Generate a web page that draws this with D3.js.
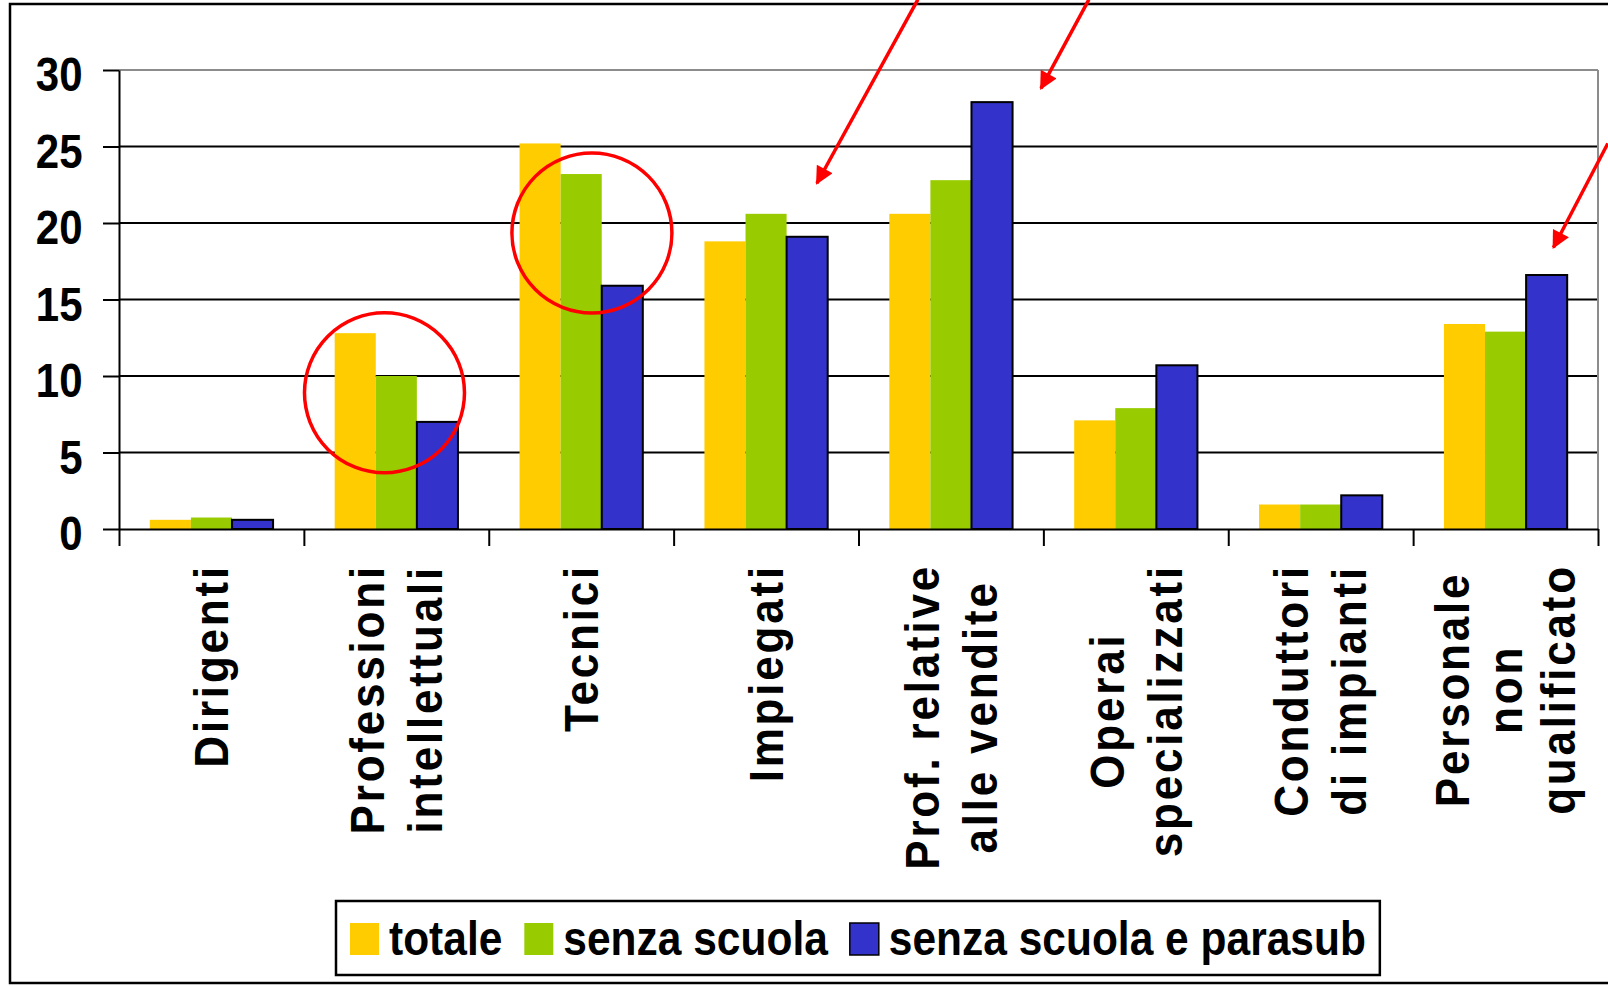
<!DOCTYPE html>
<html>
<head>
<meta charset="utf-8">
<script src="https://cdn.jsdelivr.net/npm/d3@7"></script>
<style>
  body { margin: 0; background: #fff; }
  svg { display: block; font-family: "Liberation Sans", Arial, sans-serif; font-weight: bold; }
</style>
</head>
<body>
<div id="chart"></div>
<script>
const categories = [
  'Dirigenti',
  'Professioni\nintellettuali',
  'Tecnici',
  'Impiegati',
  'Prof. relative\nalle vendite',
  'Operai\nspecializzati',
  'Conduttori\ndi impianti',
  'Personale\nnon\nqualificato'
];
const seriesNames = ['totale', 'senza scuola', 'senza scuola e parasub'];
const totale = [0.6, 12.8, 25.2, 18.8, 20.6, 7.1, 1.6, 13.4];
const senzaScuola = [0.75, 10.0, 23.2, 20.6, 22.8, 7.9, 1.6, 12.9];
const senzaScuolaParasub = [0.6, 7.0, 15.9, 19.1, 27.9, 10.7, 2.2, 16.6];
const yTicks = [0, 5, 10, 15, 20, 25, 30];

// red annotations, in data space (x = position in category units, v = value)
const circles = [{x: 1.436, v: 8.9}, {x: 2.558, v: 19.35}];
const arrows = [
  {x1: 4.321, v1: 34.6, x2: 3.775, v2: 22.6},
  {x1: 5.246, v1: 34.6, x2: 4.987, v2: 28.8},
  {x1: 8.053, v1: 25.2, x2: 7.759, v2: 18.4}
];

const colors = ['#FFCC00', '#99CC00', '#3333CC'];
const width = 1608;
const height = 986;
const plot = {left: 119, right: 1598, top: 70, bottom: 529};

const svg = d3.select('#chart')
    .append('svg')
    .attr('width', width)
    .attr('height', height);

// outer frame
svg.append('rect')
    .attr('x', 10).attr('y', 4)
    .attr('width', 1650).attr('height', 979)
    .attr('fill', 'none')
    .attr('stroke', '#000')
    .attr('stroke-width', 2.5);

const x = d3.scaleBand()
    .domain(d3.range(categories.length))
    .range([plot.left, plot.right]);
const xSeries = d3.scaleBand()
    .domain(d3.range(seriesNames.length))
    .range([0, x.bandwidth()])
    .paddingOuter(0.75);
const xPos = d3.scaleLinear()
    .domain([0, categories.length])
    .range([plot.left, plot.right]);
const y = d3.scaleLinear()
    .domain([0, 30])
    .range([plot.bottom, plot.top]);

// gridlines
svg.append('g')
    .selectAll('line')
    .data(yTicks.filter(d => d > 0))
    .join('line')
    .attr('x1', plot.left).attr('x2', plot.right)
    .attr('y1', d => y(d)).attr('y2', d => y(d))
    .attr('stroke', d => d === 30 ? '#8c8c8c' : '#000')
    .attr('stroke-width', 2);

svg.append('line')
    .attr('x1', plot.right).attr('x2', plot.right)
    .attr('y1', y(30)).attr('y2', y(0))
    .attr('stroke', '#8c8c8c')
    .attr('stroke-width', 2);

// bars
const values = [totale, senzaScuola, senzaScuolaParasub];
const barData = categories.flatMap((c, i) => values.map((v, s) => ({i, s, v: v[i]})));

svg.append('g')
    .selectAll('rect')
    .data(barData)
    .join('rect')
    .attr('x', d => x(d.i) + xSeries(d.s))
    .attr('width', xSeries.bandwidth())
    .attr('y', d => y(d.v))
    .attr('height', d => y(0) - y(d.v))
    .attr('fill', d => colors[d.s])
    .attr('stroke', d => d.s === 2 ? '#000' : 'none')
    .attr('stroke-width', 2);

// y axis
const yAxis = d3.axisLeft(y)
    .tickValues(yTicks)
    .tickSize(16)
    .tickSizeOuter(0);

const gy = svg.append('g')
    .attr('transform', `translate(${plot.left},0)`)
    .call(yAxis);
gy.selectAll('path, line').attr('stroke', '#000').attr('stroke-width', 2);
gy.selectAll('text')
    .attr('x', null).attr('dy', null)
    .attr('fill', '#000')
    .attr('font-size', 42)
    .attr('transform', 'translate(-36.5,20.5) scale(1,1.13)');

// x axis (ticks between categories)
const xAxis = d3.axisBottom(xPos)
    .tickValues(d3.range(categories.length + 1))
    .tickSize(17)
    .tickSizeOuter(0)
    .tickFormat('');

const gx = svg.append('g')
    .attr('transform', `translate(0,${plot.bottom})`)
    .call(xAxis);
gx.selectAll('path, line').attr('stroke', '#000').attr('stroke-width', 2);

// category labels, rotated (glyphs a bit wider across than along the text)
const catFont = 44, catAcross = 1.1, catSpacing = 2.8, labelTop = 564;
categories.forEach((c, i) => {
  const lines = c.split('\n');
  const lineH = lines.length > 2 ? 53 : 58;
  const g = svg.append('g');
  const texts = g.selectAll('text')
      .data(lines)
      .join('text')
      .attr('font-size', catFont)
      .attr('letter-spacing', catSpacing)
      .attr('text-anchor', 'middle')
      .attr('dominant-baseline', 'central')
      .text(d => d);
  const maxLen = d3.max(texts.nodes(), n => n.getComputedTextLength());
  const cx = x(i) + x.bandwidth() / 2;
  texts.attr('transform', (d, j) =>
      `translate(${cx + (j - (lines.length - 1) / 2) * lineH},${labelTop + maxLen / 2}) scale(${catAcross},1) rotate(-90)`);
});

// legend
const legend = svg.append('g');
const legendBox = legend.append('rect')
    .attr('x', 336).attr('y', 901)
    .attr('height', 74)
    .attr('fill', '#fff')
    .attr('stroke', '#000')
    .attr('stroke-width', 2.5);

let lx = 350;
seriesNames.forEach((name, s) => {
  legend.append('rect')
      .attr('x', lx).attr('y', 923)
      .attr('width', 29).attr('height', 32)
      .attr('fill', colors[s])
      .attr('stroke', s === 2 ? '#000' : 'none')
      .attr('stroke-width', 1.5);
  const t = legend.append('text')
      .attr('transform', `translate(${lx + 39},955) scale(1,1.12)`)
      .attr('font-size', 42.5)
      .text(name);
  lx += 39 + t.node().getComputedTextLength() + 22;
});
legendBox.attr('width', lx - 22 + 14 - 336);

// annotations
svg.append('defs')
    .append('marker')
    .attr('id', 'head')
    .attr('viewBox', '0 0 10 10')
    .attr('refX', 9).attr('refY', 5)
    .attr('markerWidth', 24).attr('markerHeight', 18)
    .attr('markerUnits', 'userSpaceOnUse')
    .attr('orient', 'auto')
    .append('path')
    .attr('d', 'M0,0L10,5L0,10z')
    .attr('fill', '#FF0000');

svg.append('g')
    .selectAll('circle')
    .data(circles)
    .join('circle')
    .attr('cx', d => xPos(d.x))
    .attr('cy', d => y(d.v))
    .attr('r', 80)
    .attr('fill', 'none')
    .attr('stroke', '#FF0000')
    .attr('stroke-width', 3.5);

svg.append('g')
    .selectAll('line')
    .data(arrows)
    .join('line')
    .attr('x1', d => xPos(d.x1)).attr('y1', d => y(d.v1))
    .attr('x2', d => xPos(d.x2)).attr('y2', d => y(d.v2))
    .attr('stroke', '#FF0000')
    .attr('stroke-width', 3.5)
    .attr('marker-end', 'url(#head)');
</script>
</body>
</html>
